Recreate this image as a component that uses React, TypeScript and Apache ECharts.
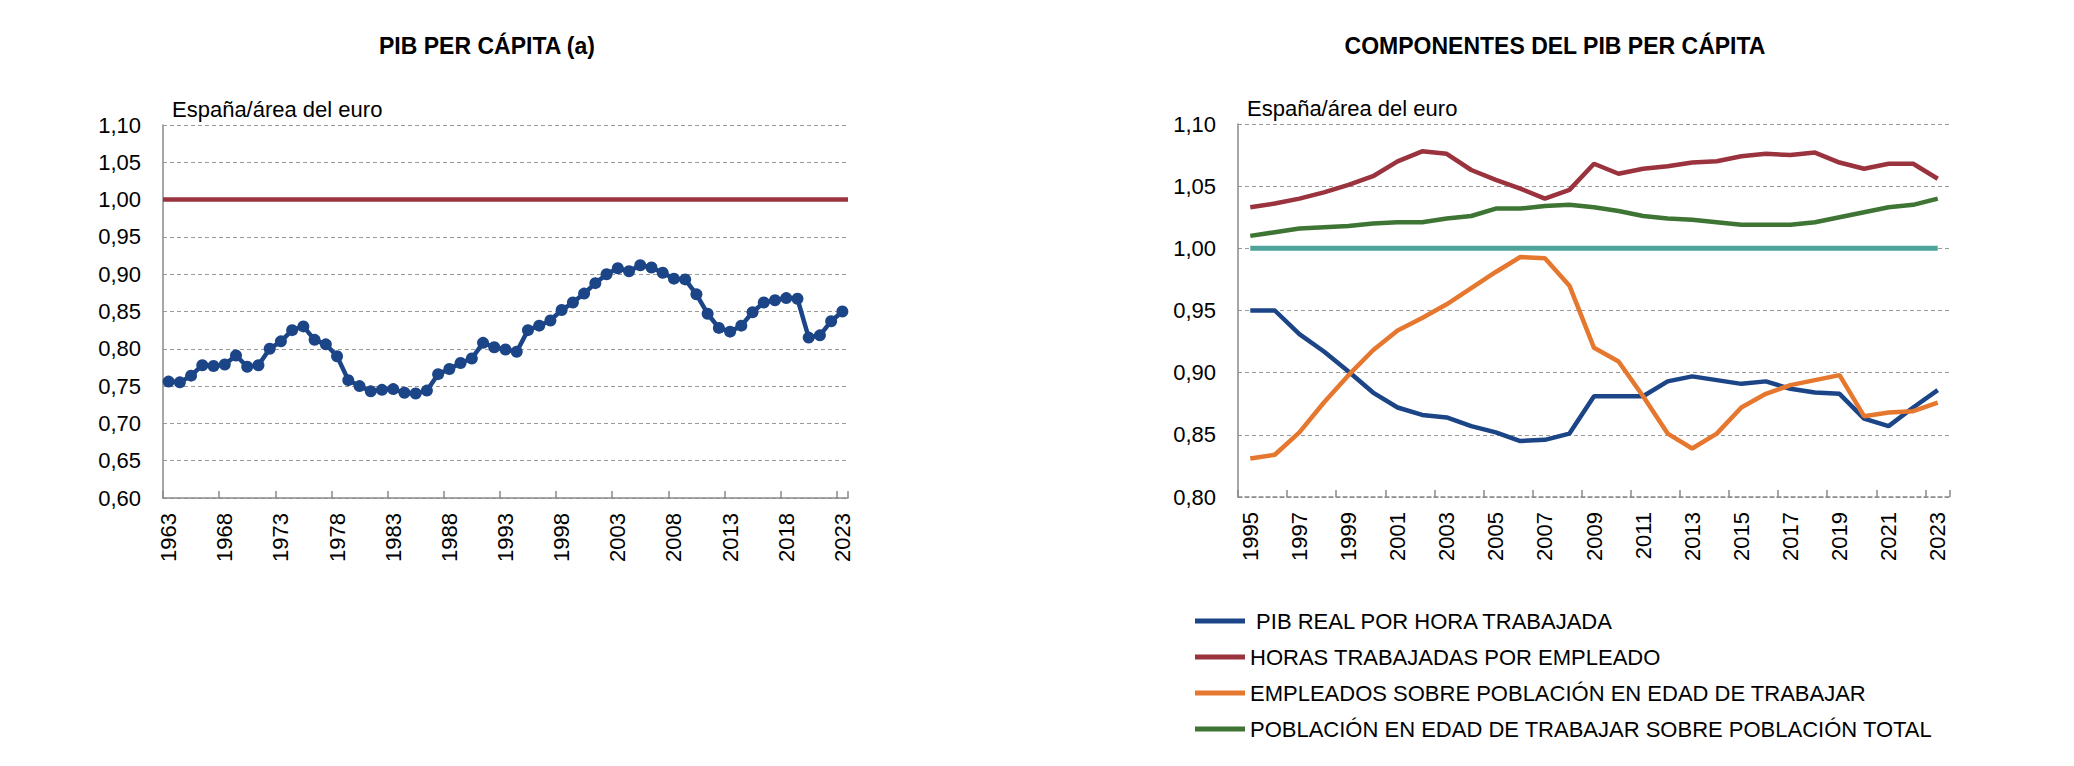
import React, { useEffect, useRef } from 'react';
import * as echarts from 'echarts';

// PIB per cápita, España / área del euro
const years1963 = [
    '1963', '1964', '1965', '1966', '1967', '1968', '1969', '1970', '1971', '1972',
    '1973', '1974', '1975', '1976', '1977', '1978', '1979', '1980', '1981', '1982',
    '1983', '1984', '1985', '1986', '1987', '1988', '1989', '1990', '1991', '1992',
    '1993', '1994', '1995', '1996', '1997', '1998', '1999', '2000', '2001', '2002',
    '2003', '2004', '2005', '2006', '2007', '2008', '2009', '2010', '2011', '2012',
    '2013', '2014', '2015', '2016', '2017', '2018', '2019', '2020', '2021', '2022',
    '2023'
];
const pibPerCapita = [
    0.756, 0.755, 0.764, 0.778, 0.777, 0.779, 0.791, 0.776, 0.778, 0.800,
    0.810, 0.825, 0.830, 0.812, 0.806, 0.790, 0.758, 0.750, 0.743, 0.745,
    0.746, 0.741, 0.740, 0.744, 0.766, 0.773, 0.781, 0.787, 0.808, 0.802,
    0.799, 0.796, 0.825, 0.831, 0.838, 0.852, 0.862, 0.874, 0.888, 0.900,
    0.908, 0.904, 0.912, 0.909, 0.902, 0.894, 0.893, 0.873, 0.847, 0.828,
    0.823, 0.831, 0.849, 0.862, 0.865, 0.868, 0.867, 0.815, 0.818, 0.837,
    0.850
];
const euroReference = 1.0;

// Componentes del PIB per cápita
const years1995 = [
    '1995', '1996', '1997', '1998', '1999', '2000', '2001', '2002', '2003', '2004',
    '2005', '2006', '2007', '2008', '2009', '2010', '2011', '2012', '2013', '2014',
    '2015', '2016', '2017', '2018', '2019', '2020', '2021', '2022', '2023'
];
const pibPorHora = [
    0.950, 0.950, 0.931, 0.917, 0.901, 0.884, 0.872, 0.866, 0.864, 0.857,
    0.852, 0.845, 0.846, 0.851, 0.881, 0.881, 0.881, 0.893, 0.897, 0.894,
    0.891, 0.893, 0.887, 0.884, 0.883, 0.863, 0.857, 0.872, 0.886
];
const horasPorEmpleado = [
    1.033, 1.036, 1.040, 1.045, 1.051, 1.058, 1.070, 1.078, 1.076, 1.063,
    1.055, 1.048, 1.040, 1.047, 1.068, 1.060, 1.064, 1.066, 1.069, 1.070,
    1.074, 1.076, 1.075, 1.077, 1.069, 1.064, 1.068, 1.068, 1.056
];
const empleadosSobrePoblacion = [
    0.831, 0.834, 0.852, 0.876, 0.898, 0.918, 0.934, 0.944, 0.955, 0.968,
    0.981, 0.993, 0.992, 0.970, 0.920, 0.909, 0.881, 0.851, 0.839, 0.851,
    0.872, 0.883, 0.890, 0.894, 0.898, 0.865, 0.868, 0.869, 0.876
];
const poblacionEdadTrabajar = [
    1.010, 1.013, 1.016, 1.017, 1.018, 1.020, 1.021, 1.021, 1.024, 1.026,
    1.032, 1.032, 1.034, 1.035, 1.033, 1.030, 1.026, 1.024, 1.023, 1.021,
    1.019, 1.019, 1.019, 1.021, 1.025, 1.029, 1.033, 1.035, 1.040
];
const areaEuro = [
    1, 1, 1, 1, 1, 1, 1, 1, 1, 1,
    1, 1, 1, 1, 1, 1, 1, 1, 1, 1,
    1, 1, 1, 1, 1, 1, 1, 1, 1
];

const seriesNames = [
    'PIB REAL POR HORA TRABAJADA',
    'HORAS TRABAJADAS POR EMPLEADO',
    'EMPLEADOS SOBRE POBLACIÓN EN EDAD DE TRABAJAR',
    'POBLACIÓN EN EDAD DE TRABAJAR SOBRE POBLACIÓN TOTAL'
];

const FONT = '"Liberation Sans", Arial, Helvetica, sans-serif';
const BLUE = '#1c4587';
const MAROON = '#9a333d';
const ORANGE = '#e6772e';
const GREEN = '#3e7534';
const TEAL = '#4ea39a';
const AXIS_GREY = '#8a8a8a';

const commaLabel = (v: number) => v.toFixed(2).replace('.', ',');

const yAxisBase = (min: number) => ({
    type: 'value' as const,
    min,
    max: 1.1,
    interval: 0.05,
    name: 'España/área del euro',
    nameLocation: 'end' as const,
    nameGap: 5,
    nameTextStyle: {
        align: 'left' as const,
        verticalAlign: 'bottom' as const,
        padding: [0, 0, 0, 9],
        fontSize: 22,
        fontFamily: FONT,
        color: '#000'
    },
    axisLine: { show: true, lineStyle: { color: AXIS_GREY, width: 1.5 } },
    axisTick: { show: false },
    axisLabel: {
        formatter: commaLabel,
        fontSize: 22,
        fontFamily: FONT,
        color: '#000',
        margin: 22
    },
    splitLine: { show: true, lineStyle: { color: '#9a9a9a', width: 1, type: [4, 3] } }
});

const xAxisBase = (data: string[], every: number, gridIndex: number) => ({
    type: 'category' as const,
    gridIndex,
    data,
    boundaryGap: true,
    axisLine: { show: true, lineStyle: { color: AXIS_GREY, width: 1.5 } },
    axisTick: {
        show: true,
        inside: true,
        length: 7,
        interval: every - 1,
        lineStyle: { color: AXIS_GREY, width: 1.5 }
    },
    axisLabel: {
        interval: every - 1,
        rotate: 90,
        fontSize: 22,
        fontFamily: FONT,
        color: '#000',
        margin: 15
    }
});

const App: React.FC = () => {
    const chartRef = useRef<HTMLDivElement>(null);

    useEffect(() => {
        if (!chartRef.current) return;

        const chart = echarts.init(chartRef.current, null, { renderer: 'svg' });

        const option = {
            animation: false,
            backgroundColor: '#ffffff',
            graphic: [
                {
                    type: 'text',
                    x: 487,
                    y: 46,
                    style: {
                        text: 'PIB PER CÁPITA (a)',
                        fontSize: 23,
                        fontWeight: 'bold',
                        fontFamily: FONT,
                        fill: '#000',
                        align: 'center',
                        verticalAlign: 'middle'
                    }
                },
                {
                    type: 'text',
                    x: 1555,
                    y: 46,
                    style: {
                        text: 'COMPONENTES DEL PIB PER CÁPITA',
                        fontSize: 23,
                        fontWeight: 'bold',
                        fontFamily: FONT,
                        fill: '#000',
                        align: 'center',
                        verticalAlign: 'middle'
                    }
                }
            ],
            grid: [
                { left: 163, right: 1226, top: 125, bottom: 268, containLabel: false },
                { left: 1238, right: 124, top: 124, bottom: 269, containLabel: false }
            ],
            xAxis: [
                xAxisBase(years1963, 5, 0),
                {
                    ...xAxisBase(years1995, 2, 1),
                    axisLine: { show: true, lineStyle: { color: AXIS_GREY, width: 1.5, type: [4, 3] } }
                }
            ],
            yAxis: [
                { ...yAxisBase(0.6), gridIndex: 0 },
                { ...yAxisBase(0.8), gridIndex: 1 }
            ],
            legend: {
                data: seriesNames,
                orient: 'vertical',
                left: 1190,
                top: 604,
                icon: 'rect',
                itemWidth: 50,
                itemHeight: 5,
                itemGap: 12,
                selectedMode: false,
                textStyle: {
                    fontSize: 22,
                    fontFamily: FONT,
                    color: '#000',
                    lineHeight: 24
                },
                formatter: (name: string) => (name === seriesNames[0] ? ' ' + name : name)
            },
            series: [
                {
                    name: 'PIB PER CÁPITA',
                    type: 'line',
                    xAxisIndex: 0,
                    yAxisIndex: 0,
                    data: pibPerCapita,
                    symbol: 'circle',
                    symbolSize: 12,
                    showSymbol: true,
                    showAllSymbol: true,
                    lineStyle: { color: BLUE, width: 4.5 },
                    itemStyle: { color: BLUE },
                    markLine: {
                        silent: true,
                        symbol: 'none',
                        label: { show: false },
                        lineStyle: { color: MAROON, width: 4.5, type: 'solid' },
                        data: [{ yAxis: euroReference }]
                    },
                    z: 3
                },
                {
                    name: 'ÁREA DEL EURO',
                    type: 'line',
                    xAxisIndex: 1,
                    yAxisIndex: 1,
                    data: areaEuro,
                    showSymbol: false,
                    lineStyle: { color: TEAL, width: 5 },
                    itemStyle: { color: TEAL },
                    z: 2
                },
                {
                    name: seriesNames[0],
                    type: 'line',
                    xAxisIndex: 1,
                    yAxisIndex: 1,
                    data: pibPorHora,
                    showSymbol: false,
                    lineStyle: { color: BLUE, width: 4.5 },
                    itemStyle: { color: BLUE },
                    z: 3
                },
                {
                    name: seriesNames[1],
                    type: 'line',
                    xAxisIndex: 1,
                    yAxisIndex: 1,
                    data: horasPorEmpleado,
                    showSymbol: false,
                    lineStyle: { color: MAROON, width: 4.5 },
                    itemStyle: { color: MAROON },
                    z: 3
                },
                {
                    name: seriesNames[2],
                    type: 'line',
                    xAxisIndex: 1,
                    yAxisIndex: 1,
                    data: empleadosSobrePoblacion,
                    showSymbol: false,
                    lineStyle: { color: ORANGE, width: 4.5 },
                    itemStyle: { color: ORANGE },
                    z: 3
                },
                {
                    name: seriesNames[3],
                    type: 'line',
                    xAxisIndex: 1,
                    yAxisIndex: 1,
                    data: poblacionEdadTrabajar,
                    showSymbol: false,
                    lineStyle: { color: GREEN, width: 4.5 },
                    itemStyle: { color: GREEN },
                    z: 3
                }
            ]
        };

        chart.setOption(option as any);

        return () => {
            chart.dispose();
        };
    }, []);

    return (
        <div
            ref={chartRef}
            style={{ position: 'absolute', left: 0, top: 0, width: 2074, height: 766, background: '#fff' }}
        />
    );
};

export default App;
